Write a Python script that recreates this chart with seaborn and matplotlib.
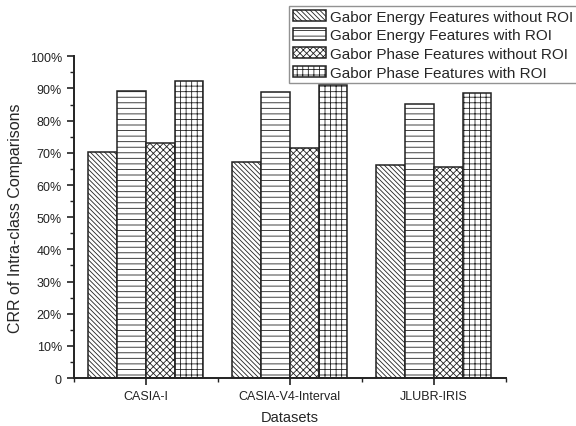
import pandas as pd
import matplotlib
matplotlib.use("Agg")
import matplotlib.pyplot as plt
import matplotlib.ticker as mticker
import seaborn as sns

datasets = ["CASIA-I", "CASIA-V4-Interval", "JLUBR-IRIS"]
methods = [
	"Gabor Energy Features without ROI",
	"Gabor Energy Features with ROI",
	"Gabor Phase Features without ROI",
	"Gabor Phase Features with ROI",
]
# CRR (%) per method, in dataset order
energy_no_roi = [70.2, 67.1, 66.3]
energy_roi = [89.3, 88.8, 85.1]
phase_no_roi = [73.2, 71.4, 65.7]
phase_roi = [92.4, 91.2, 88.6]

hatches = ["\\" * 7, "---", "x" * 5, "+++"]

sns.set_theme(style="ticks")
plt.rcParams["font.family"] = ["Liberation Sans", "DejaVu Sans"]
plt.rcParams["hatch.linewidth"] = 0.6
plt.rcParams["hatch.color"] = "#444444"

rows = []
for m, vals in zip(methods, [energy_no_roi, energy_roi, phase_no_roi, phase_roi]):
	for d, v in zip(datasets, vals):
		rows.append({"dataset": d, "method": m, "crr": v})
df = pd.DataFrame(rows)

fig = plt.figure(figsize=(5.76, 4.27), dpi=100)
ax = fig.add_axes([0.128, 0.112, 0.75, 0.754])

sns.barplot(
	data=df, x="dataset", y="crr", hue="method",
	hue_order=methods, order=datasets,
	palette=["white"] * 4, edgecolor="#222222", linewidth=1.1,
	width=0.8, gap=0, saturation=1, ax=ax,
)

for cont, h in zip(ax.containers, hatches):
	for p in cont.patches:
		p.set_hatch(h)

ax.get_legend().remove()
handles = [cont.patches[0] for cont in ax.containers]
fig.legend(
	handles, methods, loc="upper left",
	bbox_to_anchor=(289 / 576, 1 - 7 / 427),
	fontsize=11, frameon=True, fancybox=False, edgecolor="#777777",
	handlelength=2.15, handleheight=0.75, handletextpad=0.3,
	labelspacing=0.3, borderpad=0.25, borderaxespad=0,
)

ax.set_xlim(-0.5, 2.5)
ax.set_ylim(0, 100)
ax.yaxis.set_major_locator(mticker.MultipleLocator(10))
ax.yaxis.set_minor_locator(mticker.MultipleLocator(5))
ax.yaxis.set_major_formatter(mticker.FuncFormatter(lambda v, p: "0" if v == 0 else f"{int(v)}%"))
ax.xaxis.set_minor_locator(mticker.FixedLocator([-0.5, 0.5, 1.5, 2.5]))

ax.tick_params(which="major", direction="out", length=5, width=1.2, labelsize=9, colors="#222222")
ax.tick_params(which="minor", direction="out", length=3, width=1.0, colors="#222222")

sns.despine(ax=ax)
for s in ["left", "bottom"]:
	ax.spines[s].set_linewidth(1.4)
	ax.spines[s].set_color("#222222")

ax.set_xlabel("Datasets", fontsize=10.5, labelpad=6)
ax.set_ylabel("CRR of Intra-class Comparisons", fontsize=11.5, labelpad=5)

plt.savefig("out.png", dpi=100)
plt.close()
